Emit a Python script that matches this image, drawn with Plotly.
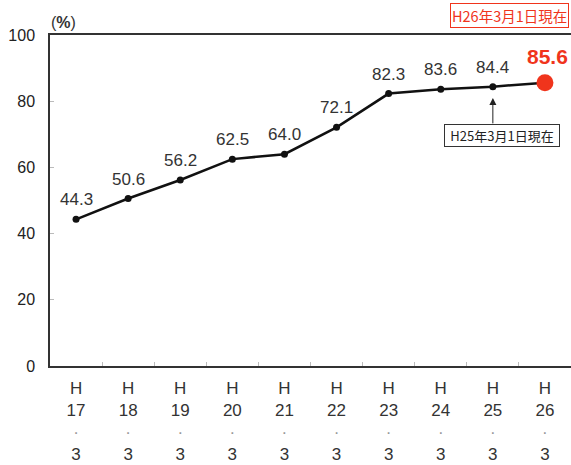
import plotly.graph_objects as go

# Survey years (Heisei era, as of March) and the rate in percent
years = ["17", "18", "19", "20", "21", "22", "23", "24", "25", "26"]
rates = [44.3, 50.6, 56.2, 62.5, 64.0, 72.1, 82.3, 83.6, 84.4, 85.6]
y_ticks = [0, 20, 40, 60, 80, 100]

cats = ["H" + y for y in years]
tick_text = ["H<br>" + y + "<br><span style='color:#999999'>·</span><br>3" for y in years]

LATIN = "Liberation Sans, Arial, sans-serif"
CJK = "Noto Sans CJK JP, sans-serif"
RED = "#f0341c"

fig = go.Figure()

# trend line with all points
fig.add_trace(go.Scatter(
    x=cats, y=rates, mode="lines+markers",
    line=dict(color="#111111", width=2.5),
    marker=dict(color="#111111", size=7),
    hoverinfo="skip", showlegend=False, cliponaxis=False,
))
# latest point highlighted
fig.add_trace(go.Scatter(
    x=[cats[-1]], y=[rates[-1]], mode="markers",
    marker=dict(color=RED, size=17),
    hoverinfo="skip", showlegend=False, cliponaxis=False,
))

annotations = []
for i, (c, v) in enumerate(zip(cats, rates)):
    last = i == len(cats) - 1
    annotations.append(dict(
        x=c, y=v, xref="x", yref="y", text=f"{v:.1f}",
        showarrow=False, yanchor="bottom",
        yshift=13 if last else 8, xshift=3 if last else 0,
        font=dict(family=LATIN, size=21 if last else 17,
                  color=RED if last else "#333333",
                  weight="bold" if last else "normal"),
    ))

# unit label above the axis
annotations.append(dict(
    x=(63 - 50) / 521, y=(366 - 22) / 331, xref="paper", yref="paper",
    xanchor="center", yanchor="middle", text="(<b>%</b>)",
    showarrow=False, font=dict(family=LATIN, size=16, color="#333333"),
))

# date notes
annotations.append(dict(
    x=1.0, y=1.0, xref="paper", yref="paper", xanchor="right", yanchor="bottom",
    yshift=7, xshift=-2, text="H26年3月1日現在", showarrow=False,
    font=dict(family=CJK, size=14.5, color=RED),
    bordercolor=RED, borderwidth=1, borderpad=1, bgcolor="white",
))
annotations.append(dict(
    x=cats[8], y=rates[8], xref="x", yref="y", text="H25年3月1日現在",
    showarrow=False, yanchor="top", yshift=-37, xshift=9, width=112,
    font=dict(family=CJK, size=13, color="#222222"),
    bordercolor="#333333", borderwidth=1, borderpad=1, bgcolor="white",
))
annotations.append(dict(
    x=cats[8], y=81, xref="x", yref="y", text="",
    showarrow=True, ax=0, ay=27, arrowhead=2, arrowsize=1.4,
    arrowwidth=1, arrowcolor="#222222",
))

fig.update_layout(
    width=571, height=465,
    margin=dict(l=50, r=0, t=35, b=99),
    paper_bgcolor="white", plot_bgcolor="white",
    annotations=annotations,
    xaxis=dict(
        type="category", range=[-0.5, 9.5],
        tickmode="array", tickvals=cats, ticktext=tick_text,
        tickson="boundaries", ticks="inside", ticklen=4,
        tickcolor="#bbbbbb", ticklabelstandoff=6,
        showline=True, linecolor="#333333", linewidth=1.5, mirror=True,
        showgrid=False, zeroline=False,
        tickfont=dict(family=LATIN, size=17, color="#333333"),
    ),
    yaxis=dict(
        range=[0, 100], tickvals=y_ticks,
        ticks="inside", ticklen=4, tickcolor="#bbbbbb",
        showline=True, linecolor="#333333", linewidth=1.5,
        showgrid=False, zeroline=False, ticklabelstandoff=10,
        tickfont=dict(family=LATIN, size=16, color="#222222"),
    ),
)

fig.write_html("out.html")
